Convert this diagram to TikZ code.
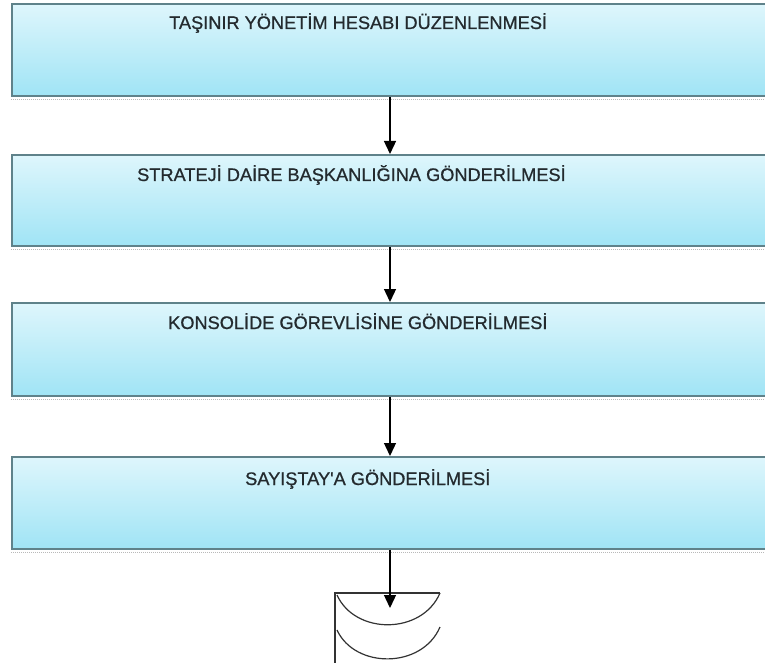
\documentclass[tikz,border=0pt]{standalone}
\usepackage{fontspec}
\setmainfont{Liberation Sans}
\newfontfamily\boxfont[FakeBold=0.8]{Liberation Sans}
\usetikzlibrary{arrows.meta}
\definecolor{boxtop}{RGB}{222,246,252}
\definecolor{boxbot}{RGB}{160,228,245}
\definecolor{boxline}{RGB}{95,130,138}
\definecolor{txt}{RGB}{35,42,46}
\tikzset{
  flowbox/.style={rectangle, draw=boxline, line width=1.8pt, top color=boxtop, bottom color=boxbot,
    minimum width=770pt, minimum height=#1, anchor=north west, inner sep=0pt},
  shade/.style={draw=gray!55, line width=1pt, dash pattern=on 1pt off 1pt},
  lbl/.style={anchor=base west, inner sep=0pt, text=txt, font=\boxfont\fontsize{18.2}{21}\selectfont},
  arr/.style={draw=black, line width=1.3pt, -{Triangle[width=12pt,length=13pt]}},
  sym/.style={draw=black!80, line width=1.2pt}
}
\begin{document}
\begin{tikzpicture}[x=1pt,y=-1pt]
\clip (0,0) rectangle (765,663);
\fill[white] (0,0) rectangle (765,663);
\coordinate (ax) at (390,0);
% boxes
\node[flowbox=92pt] (b1) at (11,3) {};
\node[flowbox=91pt] (b2) at (11,154) {};
\node[flowbox=93pt] (b3) at (11,302) {};
\node[flowbox=92pt] (b4) at (11,456) {};
% shadows
\foreach \b in {b1,b2,b3,b4}{
  \draw[shade] ([yshift=-2.5pt]\b.south west) -- ([yshift=-2.5pt]\b.south east);
}
% labels
\node[lbl] (t1) at (169,29) {TAŞINIR YÖNETİM HESABI DÜZENLENMESİ};
\node[lbl] (t2) at (137,181) {STRATEJİ DAİRE BAŞKANLIĞINA GÖNDERİLMESİ};
\node[lbl] (t3) at (168,329) {KONSOLİDE GÖREVLİSİNE GÖNDERİLMESİ};
\node[lbl] (t4) at (245,485) {SAYIŞTAY'A GÖNDERİLMESİ};
% end symbol
\coordinate (e) at (390,608);
\draw[sym] (335,663) -- (335,593) -- (440,593);
\draw[sym] (337,595) .. controls (355,635) and (422,635) .. (440,593);
\draw[sym] (337,630) .. controls (355,669) and (422,669) .. (440,627);
% arrows
\draw[arr] (b1.south -| ax) -- (b2.north -| ax);
\draw[arr] (b2.south -| ax) -- (b3.north -| ax);
\draw[arr] (b3.south -| ax) -- (b4.north -| ax);
\draw[arr] (b4.south -| ax) -- (e);
\end{tikzpicture}
\end{document}
